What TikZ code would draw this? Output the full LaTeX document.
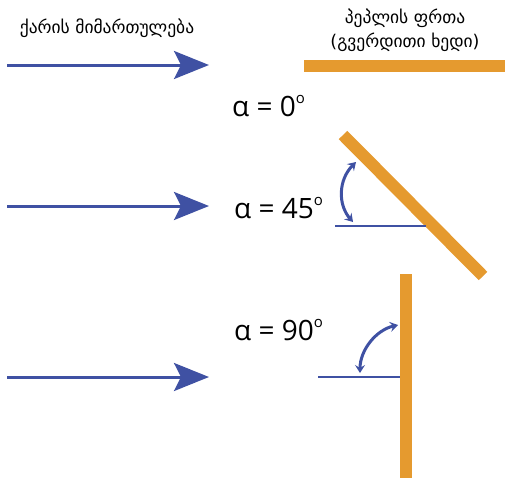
\documentclass[tikz,border=0pt]{standalone}
\usepackage{fontspec}
\setmainfont{Open Sans}
\newfontfamily\geofont{DejaVu Sans}
\usetikzlibrary{arrows.meta}
\definecolor{windblue}{RGB}{63,81,163}
\definecolor{wingorange}{RGB}{229,154,47}
\newcommand{\degsym}{\raisebox{0.9ex}{\fontsize{15}{15}\selectfont o}}

\begin{document}
\begin{tikzpicture}[x=1pt, y=-1pt,
    wind/.style={windblue, line width=3pt, -{Stealth[length=35pt, width=28pt, inset=7pt]}},
    wing/.style={wingorange, line width=12pt},
    baseline/.style={windblue, line width=2.5pt},
    swing/.style={windblue, line width=3pt, {Stealth[length=8pt, width=10pt, inset=3pt]}-{Stealth[length=8pt, width=10pt, inset=3pt]}},
    anglabel/.style={anchor=west, inner sep=0pt, font=\fontsize{28}{28}\selectfont},
    geolabel/.style={font=\geofont\fontsize{17.5}{24}\selectfont, align=center, inner sep=0pt}]
    \useasboundingbox (0,0) rectangle (505,480);

    % Titles
    \node[geolabel] (windtitle) at (107,28) {ქარის მიმართულება};
    \node[geolabel] (wingtitle) at (405,30) {პეპლის ფრთა\\(გვერდითი ხედი)};

    % Wind arrows
    \foreach \n/\y in {zero/65, half/206, full/377} {
        \coordinate (wind\n a) at (7,\y);
        \coordinate (wind\n b) at (209,\y);
        \draw[wind] (wind\n a) -- (wind\n b);
    }

    % Wing at 0
    \coordinate (wingzeroa) at (304,65.5);
    \coordinate (wingzerob) at (505,65.5);
    \draw[wing] (wingzeroa) -- (wingzerob);
    \node[anglabel] (alphazero) at (232,106) {α = 0\degsym};

    % Wing at 45
    \coordinate (winghalfa) at (343,135);
    \coordinate (winghalfb) at (483,276);
    \draw[wing] (winghalfa) -- (winghalfb);
    \coordinate (basehalfa) at (335,226);
    \coordinate (basehalfb) at (426,226);
    \draw[baseline] (basehalfa) -- (basehalfb);
    \coordinate (swinghalfa) at (356,162);
    \coordinate (swinghalfb) at (353,222);
    \draw[swing] (swinghalfa) .. controls (338,180) and (338,205) .. (swinghalfb);
    \node[anglabel] (alphahalf) at (234,208) {α = 45\degsym};

    % Wing at 90
    \coordinate (wingfulla) at (406,274);
    \coordinate (wingfullb) at (406,478);
    \draw[wing] (wingfulla) -- (wingfullb);
    \coordinate (basefulla) at (318,377);
    \coordinate (basefullb) at (400,377);
    \draw[baseline] (basefulla) -- (basefullb);
    \coordinate (swingfulla) at (398,325);
    \coordinate (swingfullb) at (360,373);
    \draw[swing] (swingfulla) .. controls (376,330) and (360,350) .. (swingfullb);
    \node[anglabel] (alphafull) at (234,330) {α = 90\degsym};
\end{tikzpicture}
\end{document}
